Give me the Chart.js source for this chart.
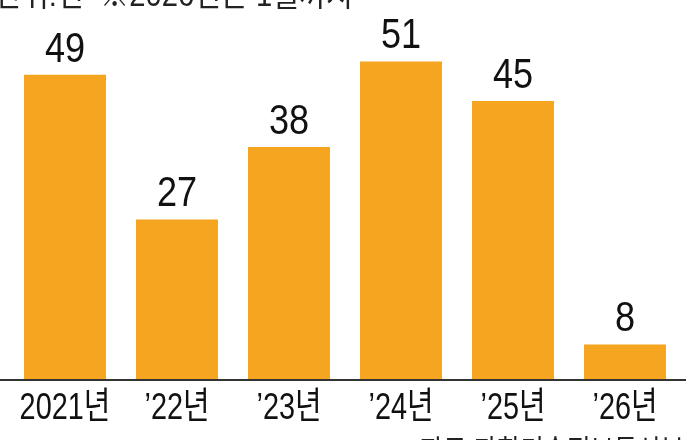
<!DOCTYPE html>
<html>
<head>
<meta charset="utf-8">
<script src="https://cdn.jsdelivr.net/npm/chart.js@4"></script>
<style>
    html, body { margin: 0; padding: 0; background: #fff; }
    #wrap { width: 686px; height: 440px; position: relative; }
</style>
</head>
<body>
<div id="wrap"><canvas id="myChart"></canvas></div>
<script>
const labels = ['2021년', '\u201922년', '\u201923년', '\u201924년', '\u201925년', '\u201926년'];
const counts = [49, 27, 38, 51, 45, 8];
const noteText = '단위:건  ※2026년은 1월까지';
const sourceText = '자료:과학기술정보통신부';

const barColor = '#f6a520';
const textFont = '"Liberation Sans", "Noto Sans CJK KR", sans-serif';

const ctx = document.getElementById('myChart');

// draws text squeezed horizontally, like the narrow type of the original
function drawNarrow(c, text, x, y, squeeze) {
    c.save();
    c.translate(x, y);
    c.scale(squeeze, 1);
    c.fillText(text, 0, 0);
    c.restore();
}

const extrasPlugin = {
    id: 'extras',
    afterDatasetsDraw: (chart) => {
        const { ctx, chartArea } = chart;
        const meta = chart.getDatasetMeta(0);
        const xScale = chart.scales.x;
        ctx.save();
        ctx.fillStyle = '#111';
        ctx.textAlign = 'center';
        ctx.textBaseline = 'alphabetic';

        // value labels
        ctx.font = '43px ' + textFont;
        meta.data.forEach((bar, i) => {
            drawNarrow(ctx, String(counts[i]), bar.x, bar.y - 13, 0.84);
        });

        // category labels on the x axis positions
        ctx.font = '37px ' + textFont;
        labels.forEach((lab, i) => {
            drawNarrow(ctx, lab, xScale.getPixelForTick(i), chartArea.bottom + 39, 0.78);
        });

        ctx.strokeStyle = '#333';
        ctx.lineWidth = 2;
        ctx.beginPath();
        ctx.moveTo(0, chartArea.bottom);
        ctx.lineTo(chart.width, chartArea.bottom);
        ctx.stroke();

        ctx.textAlign = 'left';
        ctx.fillStyle = '#222';
        ctx.font = '33px ' + textFont;
        ctx.fillText(noteText, -5, 6, 358);
        ctx.font = '30px ' + textFont;
        ctx.fillText(sourceText, 420, 461, 264);
        ctx.restore();
    }
};

new Chart(ctx, {
    type: 'bar',
    data: {
        labels: labels,
        datasets: [{
            data: counts,
            backgroundColor: barColor,
            borderWidth: 0,
            barPercentage: 0.732,
            categoryPercentage: 1
        }]
    },
    options: {
        responsive: true,
        maintainAspectRatio: false,
        animation: false,
        layout: {
            padding: { top: 20, bottom: 0, left: 9, right: 5 }
        },
        plugins: {
            legend: { display: false },
            tooltip: { enabled: false }
        },
        scales: {
            y: {
                display: false,
                min: 2.6,
                max: 57.3
            },
            x: {
                grid: { display: false, drawTicks: false },
                border: { display: false },
                ticks: { display: false },
                afterFit: (scale) => {
                    scale.height = 60;
                }
            }
        }
    },
    plugins: [extrasPlugin]
});
</script>
</body>
</html>
